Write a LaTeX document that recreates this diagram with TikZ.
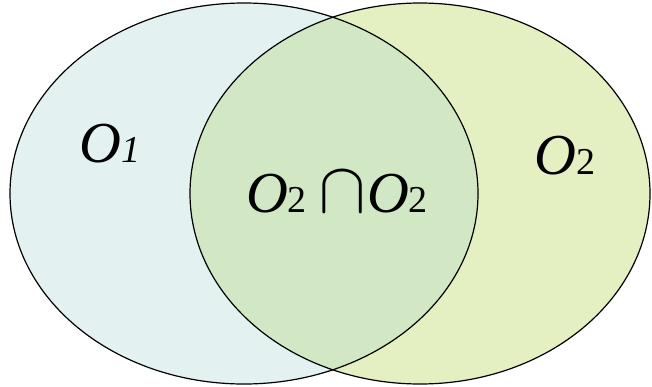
\documentclass[tikz,border=0pt]{standalone}
\usepackage{unicode-math}
\setmainfont{Liberation Serif}
\setmathfont{Latin Modern Math}
\definecolor{leftfill}{HTML}{E3F1F1}
\definecolor{rightfill}{HTML}{E4F0C1}
\definecolor{midfill}{HTML}{D2E7C4}
\tikzset{
  setline/.style={draw=black, line width=1.2pt},
  biglabel/.style={font=\fontsize{58}{60}\selectfont\itshape, inner sep=0pt, anchor=base},
}
\newcommand{\subsz}[1]{{\fontsize{38}{40}\selectfont #1}}
\begin{document}
\begin{tikzpicture}[x=1pt,y=-1pt]
\useasboundingbox (0,0) rectangle (652,386);
\fill[leftfill] (244,193.5) ellipse [x radius=234, y radius=190.5];
\fill[rightfill] (420,193.5) ellipse [x radius=230, y radius=190.5];
\begin{scope}
  \clip (244,193.5) ellipse [x radius=234, y radius=190.5];
  \fill[midfill] (420,193.5) ellipse [x radius=230, y radius=190.5];
\end{scope}
\draw[setline] (244,193.5) ellipse [x radius=234, y radius=190.5];
\draw[setline] (420,193.5) ellipse [x radius=230, y radius=190.5];
\node[biglabel] (o1) at (110,162) {O\subsz{\itshape 1}};
\node[biglabel] (o2) at (565,174) {O\subsz{\upshape 2}};
\node[biglabel] (mid) at (337,212) {O\subsz{\upshape 2}\hspace{12pt}{\upshape\fontsize{72}{74}\selectfont$\cap$}O\subsz{\upshape 2}};
\end{tikzpicture}
\end{document}
